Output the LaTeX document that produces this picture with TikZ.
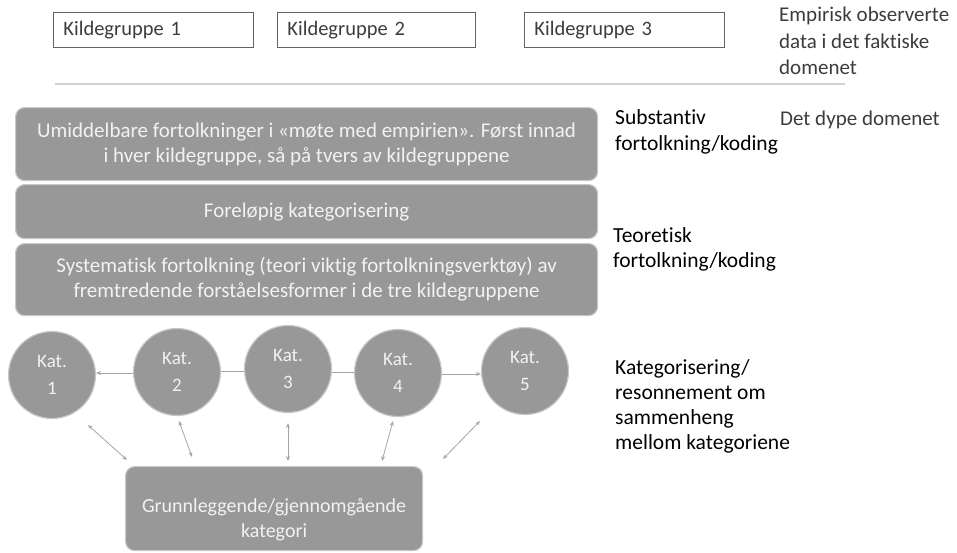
\documentclass[tikz,border=0pt]{standalone}
\usepackage{fontspec}
\setmainfont[Ligatures=NoCommon]{Carlito}
\usetikzlibrary{arrows.meta}
\definecolor{boxgray}{RGB}{152,152,152}
\definecolor{rimgray}{RGB}{200,200,200}
\definecolor{txtlight}{RGB}{242,242,242}
\definecolor{darktxt}{RGB}{60,60,60}
\definecolor{arrgray}{RGB}{165,165,165}
\tikzset{
  srcbox/.style={draw=darktxt!80, line width=0.9pt, minimum height=35pt, anchor=north west, inner sep=0pt, align=left, font=\fontsize{20.5}{24}\selectfont, text=darktxt},
  bigbox/.style={fill=boxgray, draw=rimgray, line width=1.2pt, rounded corners=9pt, anchor=north west, inner sep=0pt, align=center, text=txtlight, font=\fontsize{21}{25}\selectfont},
  katc/.style={circle, fill=boxgray, draw=rimgray, line width=1.2pt, minimum size=87pt, inner sep=0pt, align=center, text=txtlight, font=\fontsize{19}{27}\selectfont},
  sidelbl/.style={anchor=north west, align=left, inner sep=0pt, font=\fontsize{21.5}{25}\selectfont},
  conn/.style={draw=arrgray, line width=0.8pt},
  tip/.style={-{Stealth[length=5pt,width=4pt]}},
  tips/.style={{Stealth[length=5pt,width=4pt]}-{Stealth[length=5pt,width=4pt]}}
}
\begin{document}
\begin{tikzpicture}[x=1pt,y=-1pt]
\useasboundingbox (0,0) rectangle (957,552);
% top source groups
\node[srcbox, text width=200pt] (k1) at (53,12) {\hspace*{10pt}Kildegruppe 1};
\node[srcbox, text width=198pt] (k2) at (277,12) {\hspace*{10pt}Kildegruppe 2};
\node[srcbox, text width=200pt] (k3) at (524,12) {\hspace*{10pt}Kildegruppe 3};
\node[sidelbl, text=darktxt, font=\fontsize{21}{26.5}\selectfont] (emp) at (779,7) {Empirisk observerte\\data i det faktiske\\domenet};
% separator
\coordinate (sepL) at (55,84);
\coordinate (sepR) at (845,84);
\draw[draw=rimgray!85, line width=1.6pt] (sepL) -- (sepR);
% big boxes
\node[bigbox, minimum width=582pt, minimum height=73pt] (b1) at (15,107) {Umiddelbare fortolkninger i «møte med empirien». Først innad\\i hver kildegruppe, så på tvers av kildegruppene};
\node[bigbox, minimum width=582pt, minimum height=54pt] (b2) at (15,184) {Foreløpig kategorisering};
\node[bigbox, minimum width=582pt, minimum height=72pt] (b3) at (15,243) {Systematisk fortolkning (teori viktig fortolkningsverktøy) av\\fremtredende forståelsesformer i de tre kildegruppene};
% side labels
\node[sidelbl, font=\fontsize{21.5}{26}\selectfont] (subst) at (615,109) {Substantiv\\fortolkning/koding};
\node[sidelbl, text=darktxt, font=\fontsize{21}{25}\selectfont] (dyp) at (780,111) {Det dype domenet};
\node[sidelbl] (teor) at (613,227) {Teoretisk\\fortolkning/koding};
\node[sidelbl] (katlbl) at (615,359) {Kategorisering/\\resonnement om\\sammenheng\\mellom kategoriene};
% circles
\node[katc] (c1) at (52,375) {Kat.\\1};
\node[katc] (c2) at (177,372) {Kat.\\2};
\node[katc] (c3) at (288,369) {Kat.\\3};
\node[katc] (c4) at (398,373) {Kat.\\4};
\node[katc] (c5) at (525,371) {Kat.\\5};
% bottom box
\node[bigbox, minimum width=297pt, minimum height=84pt] (bot) at (125,466) {};
\node[align=center, inner sep=0pt, text=txtlight, font=\fontsize{20}{25}\selectfont] (botT) at ([yshift=-11pt]bot.center) {Grunnleggende/gjennomgående\\kategori};
% horizontal connectors
\draw[conn, tip] (c2.west |- 0,373) -- (c1.east |- 0,373);
\draw[conn] (c2.east |- 0,371) -- (c3.west |- 0,371);
\draw[conn] (c3.east |- 0,372) -- (c4.west |- 0,372);
\draw[conn, tip] (c4.east |- 0,374) -- (c5.west |- 0,374);
% diagonal connectors
\coordinate (d1a) at (88,425); \coordinate (d1b) at (127,460);
\coordinate (d2a) at (179,421); \coordinate (d2b) at (192,457);
\coordinate (d3a) at (288,423); \coordinate (d3b) at (288,461);
\coordinate (d4a) at (393,421); \coordinate (d4b) at (382,461);
\coordinate (d5a) at (480,421); \coordinate (d5b) at (443,459);
\draw[conn, tips] (d1a) -- (d1b);
\draw[conn, tips] (d2a) -- (d2b);
\draw[conn, tips] (d3a) -- (d3b);
\draw[conn, tips] (d4a) -- (d4b);
\draw[conn, tips] (d5a) -- (d5b);
\end{tikzpicture}
\end{document}
